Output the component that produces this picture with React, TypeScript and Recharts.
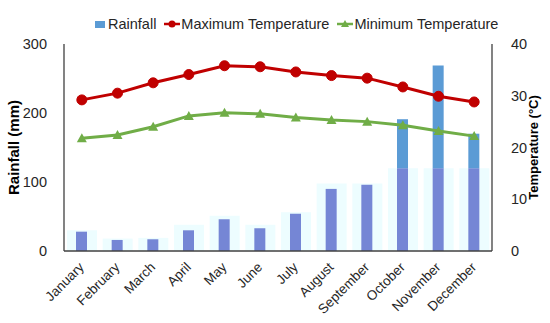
import { ComposedChart, Bar, Line, XAxis, YAxis } from 'recharts'

const months = ['January', 'February', 'March', 'April', 'May', 'June', 'July', 'August', 'September', 'October', 'November', 'December']
const rainfall = [28, 16, 17, 30, 46, 33, 54, 90, 96, 191, 269, 170]
const background = [30, 18, 19, 38, 51, 38, 56, 98, 98, 120, 120, 120]
const maxTemp = [29.2, 30.5, 32.5, 34.1, 35.8, 35.6, 34.6, 33.9, 33.4, 31.7, 29.9, 28.8]
const minTemp = [21.8, 22.4, 24.0, 26.1, 26.7, 26.5, 25.8, 25.3, 25.0, 24.3, 23.2, 22.2]

const rainTicks = [0, 100, 200, 300]
const tempTicks = [0, 10, 20, 30, 40]

const data = months.map((m, i) => ({
  month: m,
  bg: background[i],
  rainLow: Math.min(rainfall[i], background[i]),
  rainHigh: rainfall[i] - Math.min(rainfall[i], background[i]),
  maxT: maxTemp[i],
  minT: minTemp[i],
}))

const FONT = '"Liberation Sans", Arial, sans-serif'
const BLUE = '#5b9bd5'
const RED = '#c00000'
const GREEN = '#70ad47'

const MonthTick = ({ x, y, payload }: any) => (
  <text
    x={x + 3}
    y={y + 17}
    textAnchor="end"
    transform={`rotate(-45 ${x + 3} ${y + 17})`}
    fontSize={13.5}
    fontFamily={FONT}
    fill="#262626"
  >
    {payload.value}
  </text>
)

const Triangle = ({ cx, cy }: any) => {
  if (cx == null || cy == null) return null
  return <polygon points={`${cx},${cy - 5} ${cx + 5},${cy + 4} ${cx - 5},${cy + 4}`} fill={GREEN} />
}

function LegendRow() {
  const item = { display: 'flex', alignItems: 'center', marginRight: 4 }
  return (
    <div
      style={{
        position: 'absolute',
        top: 16,
        left: 95,
        display: 'flex',
        fontFamily: FONT,
        fontSize: 14.5,
        color: '#262626',
        whiteSpace: 'nowrap',
      }}
    >
      <div style={item}>
        <span style={{ width: 10, height: 7, background: BLUE, marginRight: 3 }} />
        Rainfall
      </div>
      <div style={item}>
        <svg width={16} height={10} style={{ marginRight: 1, marginLeft: 4 }}>
          <line x1={0} y1={5} x2={16} y2={5} stroke={RED} strokeWidth={2.5} />
          <circle cx={8} cy={5} r={3.5} fill={RED} />
        </svg>
        Maximum Temperature
      </div>
      <div style={item}>
        <svg width={16} height={10} style={{ marginRight: 1, marginLeft: 4 }}>
          <line x1={0} y1={5} x2={16} y2={5} stroke={GREEN} strokeWidth={2.5} />
          <polygon points="8,1 12,8 4,8" fill={GREEN} />
        </svg>
        Minimum Temperature
      </div>
    </div>
  )
}

export default function App() {
  return (
    <div style={{ position: 'absolute', left: 0, top: 0, width: 550, height: 323, background: '#fff' }}>
      <ComposedChart width={550} height={323} data={data} margin={{ top: 44, right: 0, left: 0, bottom: 0 }}>
        <XAxis
          dataKey="month"
          xAxisId="main"
          interval={0}
          tickLine={false}
          tickSize={0}
          tickMargin={0}
          height={72}
          axisLine={{ stroke: '#404040', strokeWidth: 1.3 }}
          tick={<MonthTick />}
        />
        <XAxis
          dataKey="month"
          xAxisId="bg"
          orientation="top"
          height={0}
          tick={false}
          tickLine={false}
          axisLine={{ stroke: '#404040', strokeWidth: 1.3 }}
        />
        <YAxis
          yAxisId="rain"
          width={64}
          domain={[0, 300]}
          ticks={rainTicks}
          tickLine={false}
          tickMargin={11}
          axisLine={{ stroke: '#404040', strokeWidth: 1.3 }}
          tick={{ fontSize: 14.5, fontFamily: FONT, fill: '#262626' }}
          label={{
            value: 'Rainfall (mm)',
            angle: -90,
            position: 'insideLeft',
            offset: 14,
            style: { textAnchor: 'middle', fontSize: 15, fontWeight: 'bold', fontFamily: FONT, fill: '#000' },
          }}
        />
        <YAxis
          yAxisId="temp"
          orientation="right"
          width={58}
          domain={[0, 40]}
          ticks={tempTicks}
          tickLine={false}
          tickMargin={13}
          axisLine={{ stroke: '#404040', strokeWidth: 1.3 }}
          tick={{ fontSize: 14.5, fontFamily: FONT, fill: '#262626', textAnchor: 'start' }}
          label={{
            value: 'Temperature (°C)',
            angle: -90,
            position: 'insideRight',
            offset: 17,
            style: { textAnchor: 'middle', fontSize: 13, fontWeight: 'bold', fontFamily: FONT, fill: '#000' },
          }}
        />
        <Bar dataKey="bg" xAxisId="bg" yAxisId="rain" barSize={30} fill="#edfdff" isAnimationActive={false} />
        <Bar dataKey="rainLow" xAxisId="main" yAxisId="rain" stackId="r" barSize={11} fill="#7586d5" isAnimationActive={false} />
        <Bar dataKey="rainHigh" xAxisId="main" yAxisId="rain" stackId="r" barSize={11} fill={BLUE} isAnimationActive={false} />
        <Line
          dataKey="maxT"
          xAxisId="main"
          yAxisId="temp"
          stroke={RED}
          strokeWidth={3}
          dot={{ r: 5, fill: RED, stroke: RED, strokeWidth: 1 }}
          isAnimationActive={false}
        />
        <Line
          dataKey="minT"
          xAxisId="main"
          yAxisId="temp"
          stroke={GREEN}
          strokeWidth={3}
          dot={<Triangle />}
          isAnimationActive={false}
        />
      </ComposedChart>
      <LegendRow />
    </div>
  )
}
